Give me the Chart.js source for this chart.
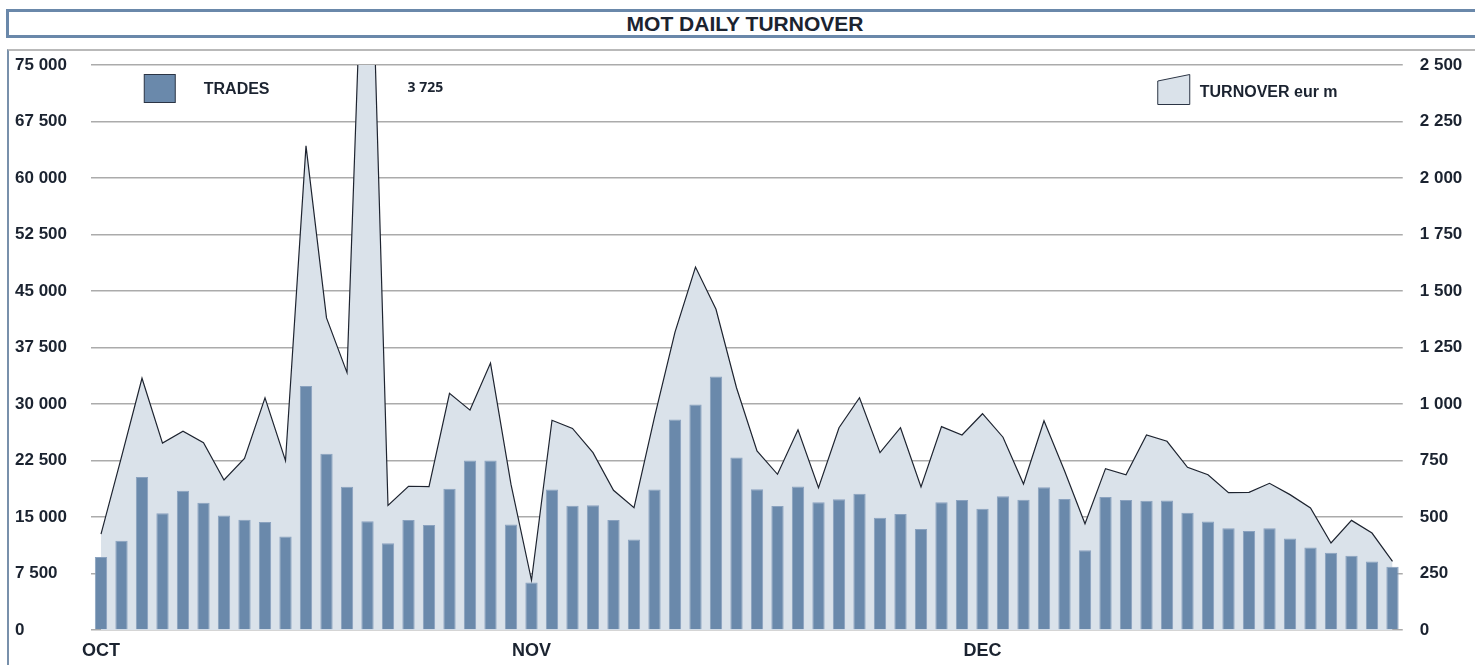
<!DOCTYPE html>
<html>
<head>
<meta charset="utf-8">
<title>MOT daily turnover</title>
<script src="https://cdn.jsdelivr.net/npm/chart.js@4/dist/chart.umd.min.js"></script>
<style>
  html, body {
    margin: 0;
    padding: 0;
    width: 1475px;
    height: 665px;
    overflow: hidden;
    background: #fff;
    font-family: "Liberation Sans", Arial, sans-serif;
  }
  #title {
    position: absolute;
    left: 6px;
    top: 9px;
    width: 1478px;
    height: 29px;
    box-sizing: border-box;
    border: 3px solid #6a88aa;
    text-align: center;
    font-weight: bold;
    font-size: 21px;
    line-height: 23px;
    color: #1b2330;
  }
  #panel {
    position: absolute;
    left: 7px;
    top: 49px;
    width: 1480px;
    height: 630px;
    border-top: 2px solid #b9b9b9;
    border-left: 2px solid #7890ab;
  }
  #chart {
    position: absolute;
    left: 0;
    top: 0;
  }
</style>
</head>
<body>
<div id="title">MOT DAILY TURNOVER</div>
<div id="panel"></div>
<canvas id="chart" width="1475" height="665"></canvas>
<script>
// trading days oct -> dec, month name on the first day of each month
const months = ["OCT", "NOV", "DEC"];
const monthStart = [0, 21, 43];
const dayCount = 64;

// number of trades per day (left axis)
const trades = [
  9700, 11850, 20300, 15500, 18500, 16900, 15200, 14650, 14350, 12400,
  32400, 23400, 19000, 14450, 11500, 14600, 13950, 18750, 22500, 22500,
  14000, 6300, 18650, 16500, 16550, 14600, 12000, 18650, 27950, 29950,
  33650, 22900, 18700, 16450, 19050, 16950, 17350, 18100, 14900, 15400,
  13400, 16950, 17250, 16100, 17750, 17300, 18950, 17400, 10600, 17650,
  17250, 17150, 17200, 15550, 14400, 13500, 13150, 13500, 12150, 10950,
  10250, 9850, 9100, 8400,
];

// turnover in eur m per day (right axis)
const turnover = [
  424, 766, 1114, 827, 880, 829, 664, 759, 1027, 749,
  2142, 1381, 1139, 3725, 551, 636, 634, 1047, 973, 1181,
  644, 220, 928, 892, 785, 618, 541, 942, 1318, 1606,
  1419, 1072, 792, 689, 886, 630, 895, 1028, 785, 895,
  633, 900, 863, 957, 853, 646, 926, 705, 470, 714,
  687, 863, 835, 720, 687, 608, 609, 649, 599, 540,
  385, 485, 429, 304,
];

const tradesMax = 75000;
const tradesStep = 7500;
const turnoverMax = 2500;
const turnoverStep = 250;

const barColor = "#6a89ab";
const areaColor = "#dae2ea";
const textColor = "#1b2330";

const labels = [];
for (let i = 0; i < dayCount; i++) {
  const m = monthStart.indexOf(i);
  labels.push(m >= 0 ? months[m] : "");
}

function spaced(n) {
  return String(n).replace(/\B(?=(\d{3})+(?!\d))/g, " ");
}

const tickFont = {family: "'Liberation Sans', Arial, sans-serif", size: 17, weight: "bold"};

// legend boxes in the corners + the value of the day that goes off the scale
const cornerLegend = {
  id: "cornerLegend",
  afterDraw(chart) {
    const {ctx, chartArea, scales} = chart;
    ctx.save();
    ctx.lineWidth = 1;
    ctx.strokeStyle = "#2b3444";

    // trades
    ctx.fillStyle = barColor;
    ctx.fillRect(chartArea.left + 53.5, 74.5, 31, 28);
    ctx.strokeRect(chartArea.left + 53.5, 74.5, 31, 28);

    ctx.fillStyle = textColor;
    ctx.font = "bold 16px 'Liberation Sans', Arial, sans-serif";
    ctx.textBaseline = "middle";
    ctx.textAlign = "left";
    ctx.fillText("TRADES", chartArea.left + 113, 90);

    // turnover
    const tx = chartArea.right - 245;
    ctx.beginPath();
    ctx.moveTo(tx, 81);
    ctx.lineTo(tx + 32, 74.5);
    ctx.lineTo(tx + 32, 104.5);
    ctx.lineTo(tx, 104.5);
    ctx.closePath();
    ctx.fillStyle = areaColor;
    ctx.fill();
    ctx.stroke();

    ctx.fillStyle = textColor;
    ctx.fillText("TURNOVER eur m", tx + 42, 93);

    // clipped turnover peaks get their value written next to them
    ctx.font = "bold 14px 'Open Sans', 'Liberation Sans', sans-serif";
    turnover.forEach((v, i) => {
      if (v <= turnoverMax) return;
      ctx.fillText(spaced(v), scales.x.getPixelForValue(i) + 40, 88);
    });
    ctx.restore();
  },
};

new Chart(document.getElementById("chart"), {
  type: "bar",
  data: {
    labels,
    datasets: [
      {
        type: "bar",
        label: "TRADES",
        data: trades,
        yAxisID: "y",
        backgroundColor: barColor,
        borderColor: "#8aa2bf",
        borderWidth: 1,
        borderSkipped: "bottom",
        barPercentage: 0.6,
        categoryPercentage: 1,
        order: 1,
      },
      {
        type: "line",
        label: "TURNOVER eur m",
        data: turnover,
        yAxisID: "y1",
        borderColor: "#1e2430",
        borderWidth: 1.2,
        backgroundColor: areaColor,
        fill: "origin",
        tension: 0,
        pointRadius: 0,
        clip: 0,
        order: 2,
      },
    ],
  },
  options: {
    responsive: false,
    animation: false,
    events: [],
    layout: {padding: {left: 15, top: 65, right: 0, bottom: 0}},
    plugins: {
      legend: {display: false},
      title: {display: false},
      tooltip: {enabled: false},
    },
    scales: {
      x: {
        offset: true,
        grid: {display: false, drawTicks: false},
        border: {display: false},
        ticks: {
          autoSkip: false,
          maxRotation: 0,
          minRotation: 0,
          padding: 10,
          color: textColor,
          font: {...tickFont, size: 18},
        },
        afterFit(scale) {
          scale.height = 35;
        },
      },
      y: {
        position: "left",
        min: 0,
        max: tradesMax,
        grid: {color: "#ababab", lineWidth: 1.5, drawTicks: false},
        border: {display: false},
        ticks: {
          stepSize: tradesStep,
          crossAlign: "far",
          color: textColor,
          font: tickFont,
          callback: v => spaced(v),
        },
        afterFit(scale) {
          scale.width = 75.75;
        },
      },
      y1: {
        position: "right",
        min: 0,
        max: turnoverMax,
        grid: {display: false, drawTicks: false},
        border: {display: false},
        ticks: {
          stepSize: turnoverStep,
          padding: 17,
          color: textColor,
          font: tickFont,
          callback: v => spaced(v),
        },
        afterFit(scale) {
          scale.width = 72.25;
        },
      },
    },
  },
  plugins: [cornerLegend],
});
</script>
</body>
</html>
